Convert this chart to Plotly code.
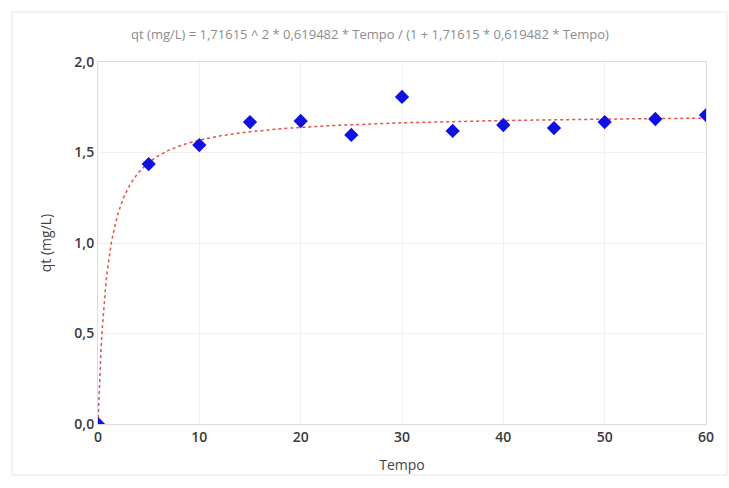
import numpy as np
import plotly.graph_objects as go

# Data
tempo = [0, 5, 10, 15, 20, 25, 30, 35, 40, 45, 50, 55, 60]
qt = [0.0, 1.436, 1.541, 1.668, 1.674, 1.597, 1.807, 1.619, 1.652, 1.635, 1.668, 1.685, 1.707]

# Fit parameters given in the chart title (pseudo-second-order model)
qe = 1.71615
k2 = 0.619482
fit_t = np.linspace(0, 60, 601)
fit_q = qe**2 * k2 * fit_t / (1 + qe * k2 * fit_t)

title_text = "qt (mg/L) = 1,71615 ^ 2 * 0,619482 * Tempo / (1 + 1,71615 * 0,619482 * Tempo)"

fig = go.Figure()
fig.add_trace(go.Scatter(
    x=fit_t, y=fit_q, mode="lines",
    line=dict(color="#e0524a", width=1.5, dash="dot"),
    showlegend=False, hoverinfo="skip"))
fig.add_trace(go.Scatter(
    x=tempo, y=qt, mode="markers",
    marker=dict(symbol="diamond", size=11, color="#1010e0"),
    showlegend=False))

axis_common = dict(
    showgrid=True, gridcolor="#f0f0f0", gridwidth=1,
    showline=True, linecolor="#dcdcdc", linewidth=1, mirror=True,
    zeroline=False, ticks="",
    tickfont=dict(family="Open Sans, sans-serif", size=14, color="#3a3a3a", weight=600),
)

fig.update_layout(
    width=729, height=488,
    margin=dict(l=98, r=23, t=62, b=64),
    paper_bgcolor="white", plot_bgcolor="white",
    separators=",.",
    title=dict(text=title_text, x=370/729, xanchor="center", y=1 - 34/488, yanchor="middle",
               font=dict(family="Open Sans, sans-serif", size=13, color="#8c8c8c")),
    xaxis=dict(range=[0, 60], dtick=10, tickformat="d",
               title=dict(text="Tempo", font=dict(family="Open Sans, sans-serif", size=14, color="#444444"), standoff=15),
               **axis_common),
    yaxis=dict(range=[0, 2.0], dtick=0.5, tickformat=".1f",
               title=dict(text="qt (mg/L)", font=dict(family="Open Sans, sans-serif", size=14, color="#444444"), standoff=19),
               **axis_common),
    shapes=[dict(type="rect", xref="paper", yref="paper",
                 x0=-0.1414, x1=1.0345, y0=-0.141, y1=1.138,
                 line=dict(color="#e6e6e6", width=1), fillcolor="rgba(0,0,0,0)", layer="below")],
)

fig.write_html("out.html")
